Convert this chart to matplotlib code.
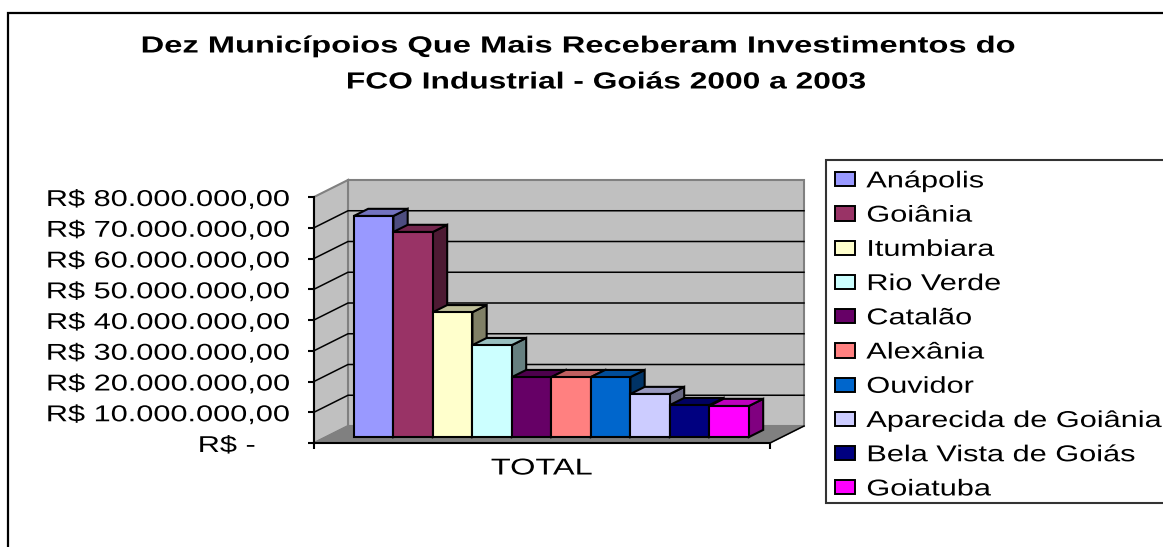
import matplotlib
matplotlib.use("Agg")
import matplotlib.pyplot as plt
from matplotlib.patches import Polygon, Patch, Rectangle
from matplotlib.patheffects import AbstractPathEffect
from matplotlib.transforms import Affine2D

plt.rcParams['font.family'] = ['Liberation Sans', 'DejaVu Sans']

cities = ["Anápolis", "Goiânia", "Itumbiara", "Rio Verde", "Catalão", "Alexânia",
          "Ouvidor", "Aparecida de Goiânia", "Bela Vista de Goiás", "Goiatuba"]
values = [71.9e6, 66.7e6, 40.6e6, 29.9e6, 19.5e6, 19.5e6, 19.5e6, 14.0e6, 10.4e6, 10.1e6]
colors = ["#9999FF", "#993366", "#FFFFCC", "#CCFFFF", "#660066", "#FF8080",
          "#0066CC", "#CCCCFF", "#000080", "#FF00FF"]
tick_values = [0, 10e6, 20e6, 30e6, 40e6, 50e6, 60e6, 70e6, 80e6]
tick_labels = ["R$ -\u00a0\u00a0\u00a0\u00a0", "R$ 10.000.000,00", "R$ 20.000.000,00", "R$ 30.000.000,00",
               "R$ 40.000.000,00", "R$ 50.000.000,00", "R$ 60.000.000,00",
               "R$ 70.000.000,00", "R$ 80.000.000,00"]
category = "TOTAL"
title_lines = ["Dez Municípoios Que Mais Receberam Investimentos do",
               "FCO Industrial - Goiás 2000 a 2003"]

W, H = 1163, 547
YMAX = 80e6


class Stretch(AbstractPathEffect):
    """Widen glyphs horizontally about a pixel column (or each text's own start)."""

    def __init__(self, sx, anchor=None):
        super().__init__()
        self.sx, self.anchor = sx, anchor

    def draw_path(self, renderer, gc, tpath, affine, rgbFace=None):
        if self.anchor is None:
            t = Affine2D().scale(self.sx, 1) + affine
        else:
            t = affine + Affine2D().translate(-self.anchor, 0).scale(self.sx, 1).translate(self.anchor, 0)
        renderer.draw_path(gc, tpath, t, rgbFace)


fig = plt.figure(figsize=(W / 100, H / 100), dpi=100)
ax = fig.add_axes([314 / W, (H - 443) / H, 456 / W, 246 / H])
ax.set_xlim(0, 1)
ax.set_ylim(0, YMAX)

# oblique projection: depth d (0 front, 1 back) shifts a point along the axes
DX = 34 / 456
DY = 17 / 246 * YMAX


def P(x, y, d):
    return (x + d * DX, y + d * DY)


def poly(pts, fc, ec="black", lw=1.5, z=2):
    ax.add_patch(Polygon(pts, closed=True, facecolor=fc, edgecolor=ec, linewidth=lw,
                         joinstyle="miter", clip_on=False, zorder=z))


# walls and floor
poly([P(0, 0, 1), P(1, 0, 1), P(1, YMAX, 1), P(0, YMAX, 1)], "#C0C0C0", "#808080", 1.5, 1)
poly([P(0, 0, 0), P(0, 0, 1), P(0, YMAX, 1), P(0, YMAX, 0)], "#C0C0C0", "#808080", 1.5, 1)
poly([P(0, 0, 0), P(1, 0, 0), P(1, 0, 1), P(0, 0, 1)], "#808080", "#808080", 1.0, 1)

for t in tick_values[1:-1]:
    xs, ys = zip(P(0, t, 0), P(0, t, 1), P(1, t, 1))
    ax.plot(xs, ys, color="black", lw=1.1, clip_on=False, zorder=1.5)

# axis lines and ticks
ax.plot([0, 0], [0, YMAX], color="black", lw=1.5, clip_on=False, zorder=3)
ax.plot([0, 1], [0, 0], color="black", lw=1.5, clip_on=False, zorder=3)
xs, ys = zip(P(1, 0, 0), P(1, 0, 1))
ax.plot(xs, ys, color="black", lw=1.1, clip_on=False, zorder=1.6)
for s in ax.spines.values():
    s.set_visible(False)
ax.patch.set_visible(False)
ax.set_yticks(tick_values, tick_labels)
ax.set_xticks([0, 1], ["", ""])
ax.tick_params(axis="y", length=4, width=1.5, pad=13, labelsize=16.5)
ax.tick_params(axis="x", length=4, width=1.5, direction="out")
for lab in ax.get_yticklabels():
    lab.set_path_effects([Stretch(1.34, anchor=292)])
ax.text(0.5, -25 / 246 * YMAX, category, ha="center", va="center", fontsize=16.5, clip_on=False,
        path_effects=[Stretch(1.42, anchor=543)])

# bars
BAR_W = 39.5 / 456
X0 = 28 / 456
D0, D1 = 0.35, 0.77


def shade(c, k):
    r, g, b = matplotlib.colors.to_rgb(c)
    return (r * k, g * k, b * k)


for i, (v, c) in enumerate(zip(values, colors)):
    a = X0 + i * BAR_W
    b = a + BAR_W
    z = 4 + i * 0.1
    poly([P(b, 0, D0), P(b, 0, D1), P(b, v, D1), P(b, v, D0)], shade(c, 0.5), z=z)
    poly([P(a, v, D0), P(b, v, D0), P(b, v, D1), P(a, v, D1)], shade(c, 0.75), z=z)
    poly([P(a, 0, D0), P(b, 0, D0), P(b, v, D0), P(a, v, D0)], c, z=z)

# outer chart frame (runs off the right and bottom of the picture)
fig.add_artist(Rectangle((8 / W, -0.1), 1.2, 1.1 - 13 / H, transform=fig.transFigure,
                         facecolor="none", edgecolor="black", linewidth=1.6, zorder=0))

fig.text(579 / W, 1 - 46 / H, title_lines[0], ha="center", va="center", fontsize=16.8,
         fontweight="bold", path_effects=[Stretch(1.40, anchor=579)])
fig.text(606.5 / W, 1 - 82 / H, title_lines[1], ha="center", va="center", fontsize=16.8,
         fontweight="bold", path_effects=[Stretch(1.36, anchor=606.5)])

# legend box (runs off the right edge of the picture)
fig.add_artist(Rectangle((826 / W, 1 - 503 / H), 0.3, 343 / H, transform=fig.transFigure,
                         facecolor="white", edgecolor="#333333", linewidth=1.5, zorder=1))
handles = [Patch(facecolor=c, edgecolor="black", linewidth=1.4) for c in colors]
leg = fig.legend(handles, cities, loc="upper left", bbox_to_anchor=(826 / W, 1 - 160 / H),
                 bbox_transform=fig.transFigure, borderaxespad=0, fontsize=16.5,
                 handlelength=0.85, handleheight=0.58, handletextpad=0.5, labelspacing=0.49,
                 borderpad=0.41, frameon=False)
leg.set_zorder(2)
for t in leg.get_texts():
    t.set_path_effects([Stretch(1.34)])

fig.savefig("out.png", dpi=100, facecolor="white")
